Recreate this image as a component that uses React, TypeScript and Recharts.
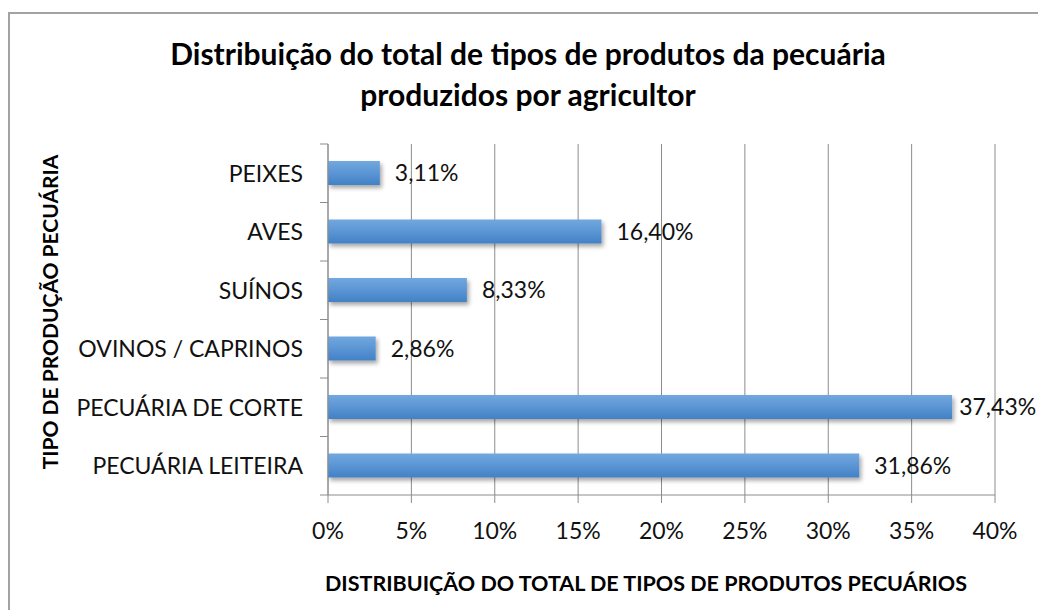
import { BarChart, Bar, XAxis, YAxis, CartesianGrid, LabelList } from 'recharts';

const categories = ['PEIXES', 'AVES', 'SUÍNOS', 'OVINOS / CAPRINOS', 'PECUÁRIA DE CORTE', 'PECUÁRIA LEITEIRA'];
const shares = [3.11, 16.4, 8.33, 2.86, 37.43, 31.86];
const xTicks = [0, 5, 10, 15, 20, 25, 30, 35, 40];

const data = categories.map((name, i) => ({ name, value: shares[i] }));

const W = 1038;
const H = 610;
const TOP = 144;
const BOTTOM = 115;
const LEFT = 328;
const RIGHT = 43;
const BAND = (H - TOP - BOTTOM) / categories.length;
const GRID = '#8c8c8c';
const FONT = 'Lato, "Open Sans", sans-serif';

const fmt = (v: number) => `${v.toFixed(2).replace('.', ',')}%`;

function CategoryTick(props: any) {
  const { x, y, payload, index } = props;
  const last = index === categories.length - 1;
  return (
    <g>
      <line x1={LEFT - 8} x2={LEFT} y1={y - BAND / 2} y2={y - BAND / 2} stroke={GRID} />
      {last && <line x1={LEFT - 8} x2={LEFT} y1={y + BAND / 2} y2={y + BAND / 2} stroke={GRID} />}
      <text x={x} y={y} dy="0.36em" textAnchor="end" fill="#111" fontSize={23} fontFamily={FONT}>
        {payload.value}
      </text>
    </g>
  );
}

function ShadowBar(props: any) {
  const { x, y, width, height } = props;
  if (!width || width <= 0) return null;
  return <rect x={x} y={y} width={width} height={height} fill="url(#barFill)" filter="url(#barShadow)" />;
}

// value label to the right of the bar; pulled in a little when it would run off the edge
function ValueLabel(props: any) {
  const { x, y, width, height, value } = props;
  const end = x + width;
  const gap = end + 15 + 76 > W ? 7 : 15;
  return (
    <text x={end + gap} y={y + height / 2} dy="0.36em" fill="#111" fontSize={23} fontFamily={FONT}>
      {fmt(Number(value))}
    </text>
  );
}

export default function App() {
  return (
    <div style={{ position: 'absolute', left: 0, top: 0, width: W, height: H, overflow: 'hidden', background: '#fff', fontFamily: FONT }}>
      <div style={{ position: 'absolute', left: 8, top: 12, width: 1100, height: 700, border: '2px solid #a3a3a3' }} />
      <div
        style={{
          position: 'absolute',
          left: 0,
          top: 33,
          width: 1056,
          textAlign: 'center',
          fontWeight: 700,
          fontSize: 30,
          lineHeight: '41px',
          color: '#000',
        }}
      >
        Distribuição do total de tipos de produtos da pecuária
        <br />
        produzidos por agricultor
      </div>
      <div
        style={{
          position: 'absolute',
          left: 49,
          top: 312,
          transform: 'translate(-50%, -50%) rotate(-90deg)',
          whiteSpace: 'nowrap',
          fontWeight: 700,
          fontSize: 21,
          color: '#000',
        }}
      >
        TIPO DE PRODUÇÃO PECUÁRIA
      </div>
      <div
        style={{
          position: 'absolute',
          left: 646,
          top: 583,
          transform: 'translate(-50%, -50%)',
          whiteSpace: 'nowrap',
          fontWeight: 700,
          fontSize: 21.5,
          color: '#000',
        }}
      >
        DISTRIBUIÇÃO DO TOTAL DE TIPOS DE PRODUTOS PECUÁRIOS
      </div>
      <div style={{ position: 'absolute', left: 0, top: 0 }}>
        <BarChart width={W} height={H} data={data} layout="vertical" margin={{ top: TOP, right: RIGHT, bottom: 0, left: 0 }}>
          <defs>
            <linearGradient id="barFill" x1="0" y1="0" x2="0" y2="1">
              <stop offset="0%" stopColor="#72a8df" />
              <stop offset="50%" stopColor="#5b95d4" />
              <stop offset="100%" stopColor="#4281c6" />
            </linearGradient>
            <filter id="barShadow" x="-5%" y="-30%" width="115%" height="180%">
              <feDropShadow dx="2" dy="3" stdDeviation="2" floodColor="#000" floodOpacity="0.35" />
            </filter>
          </defs>
          <CartesianGrid horizontal={false} stroke={GRID} />
          <XAxis
            type="number"
            domain={[0, 40]}
            ticks={xTicks}
            interval={0}
            height={BOTTOM}
            tickSize={8}
            tickMargin={20}
            tickFormatter={(v: number) => `${v}%`}
            axisLine={{ stroke: GRID }}
            tickLine={{ stroke: GRID }}
            tick={{ fill: '#111', fontSize: 23, fontFamily: FONT }}
          />
          <YAxis
            type="category"
            dataKey="name"
            width={LEFT}
            interval={0}
            tickSize={8}
            tickMargin={17}
            tickLine={false}
            axisLine={{ stroke: GRID }}
            tick={<CategoryTick />}
          />
          <Bar dataKey="value" barSize={24} shape={<ShadowBar />} isAnimationActive={false}>
            <LabelList dataKey="value" content={<ValueLabel />} />
          </Bar>
        </BarChart>
      </div>
    </div>
  );
}
